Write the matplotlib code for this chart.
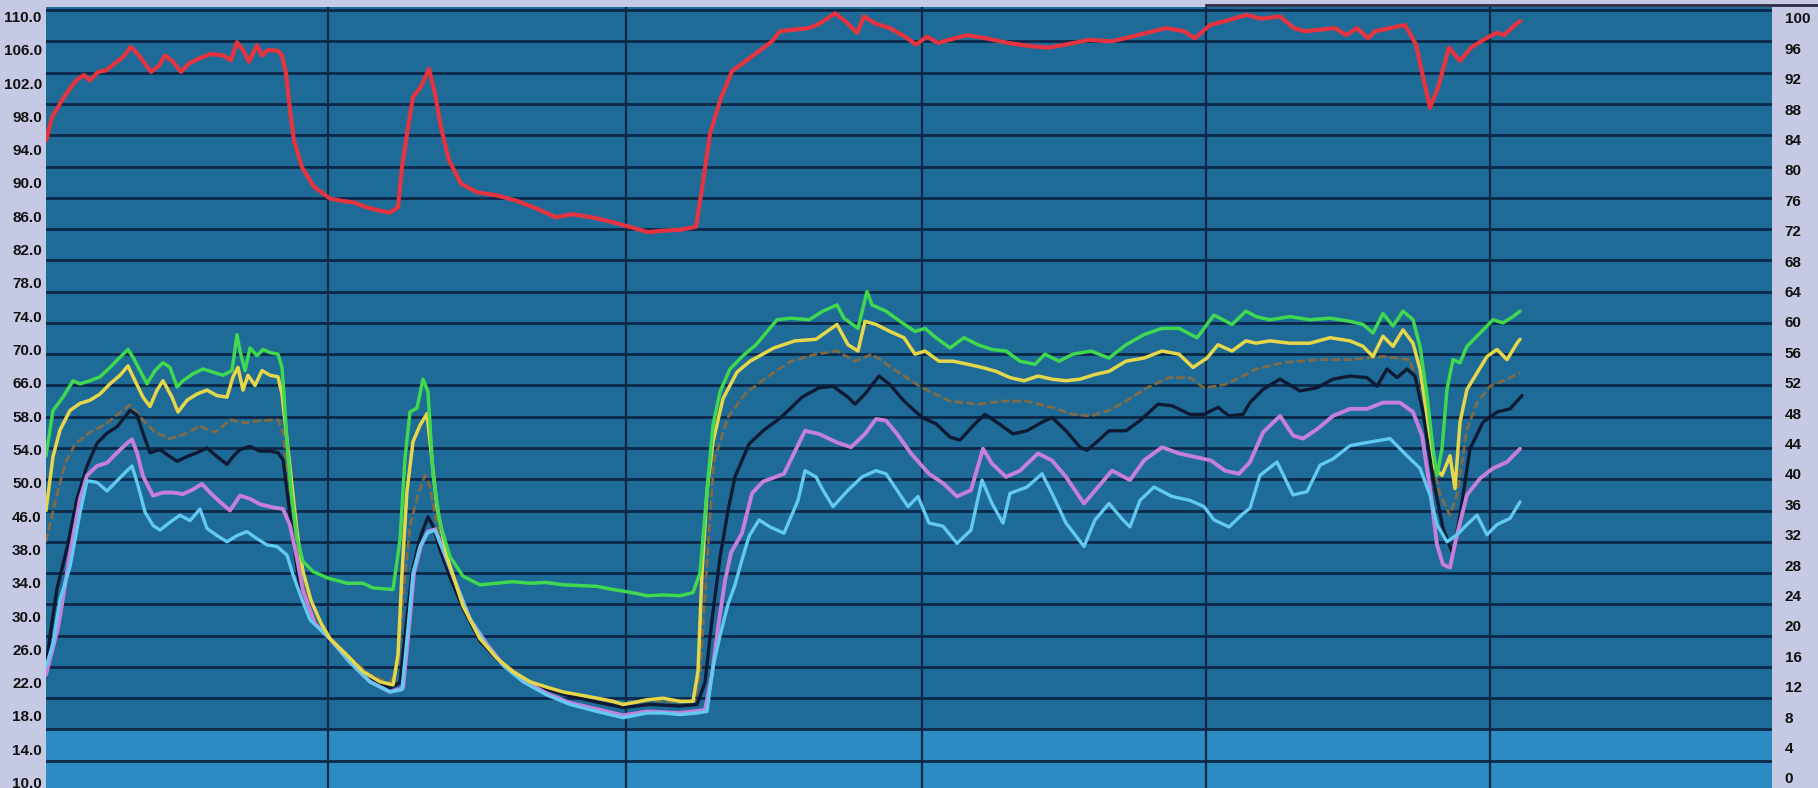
import matplotlib
matplotlib.use("Agg")
import matplotlib.pyplot as plt
from matplotlib.lines import Line2D
from matplotlib import font_manager
import numpy as np

# ---------------- data (x = sample index, y = right-axis scale 0..100) ----------------
red_x = [0, 6, 18, 30, 38, 44, 52, 60, 69, 77, 85, 93, 105, 113, 119, 127, 135, 143, 153, 165,
         177, 185, 191, 197, 203, 211, 216, 222, 232, 236, 240, 244, 248, 256, 268, 284, 296, 308,
         320, 332, 344, 352, 356, 362, 367, 375, 383, 389, 395, 403, 415, 431, 451, 471, 491, 510,
         526, 546, 566, 586, 602, 617, 634, 650, 657, 664, 675, 686, 704, 726, 734, 748, 763, 774,
         789, 800, 811, 818, 829, 844, 859, 870, 881, 892, 903, 921, 940, 962, 984, 1002, 1020,
         1043, 1065, 1079, 1101, 1120, 1138, 1149, 1164, 1182, 1201, 1215, 1234, 1248, 1259, 1274,
         1289, 1300, 1311, 1322, 1329, 1344, 1359, 1370, 1377, 1384, 1392, 1403, 1414, 1425, 1440,
         1451, 1458, 1469, 1474]
red_y = [83.3, 86.3, 88.9, 91.0, 91.7, 91.0, 92.1, 92.3, 93.2, 94.0, 95.3, 94.2, 92.1, 92.9, 94.2,
         93.4, 92.1, 93.2, 93.8, 94.4, 94.2, 93.6, 95.9, 94.9, 93.4, 95.5, 94.2, 94.9, 94.8, 94.2,
         91.9, 87.2, 83.3, 79.9, 77.4, 75.9, 75.6, 75.4, 74.8, 74.4, 74.1, 74.8, 79.9, 85.0, 88.9,
         90.2, 92.5, 89.3, 85.0, 80.8, 77.8, 76.7, 76.3, 75.6, 74.6, 73.5, 73.9, 73.5, 72.9, 72.2,
         71.6, 71.8, 71.9, 72.3, 78.0, 84.2, 88.8, 92.2, 93.9, 96.0, 97.3, 97.5, 97.7, 98.3, 99.6,
         98.5, 97.1, 99.2, 98.3, 97.7, 96.6, 95.6, 96.6, 95.8, 96.2, 96.8, 96.4, 95.8, 95.4, 95.2,
         95.6, 96.2, 96.0, 96.4, 97.1, 97.7, 97.3, 96.4, 98.1, 98.7, 99.4, 98.9, 99.2, 97.7, 97.3,
         97.5, 97.7, 96.8, 97.7, 96.4, 97.3, 97.7, 98.1, 95.6, 91.5, 87.5, 90.1, 95.2, 93.5, 95.2,
         96.4, 97.1, 96.8, 98.1, 98.6]

green_x = [0, 7, 17, 27, 34, 44, 54, 64, 74, 82, 87, 94, 101, 109, 117, 124, 131, 137, 147, 157,
           167, 177, 186, 191, 194, 199, 204, 211, 217, 224, 232, 236, 239, 242, 246, 251, 257, 267,
           281, 301, 317, 327, 347, 354, 359, 364, 371, 377, 382, 387, 394, 404, 417, 434, 451, 467,
           484, 500, 517, 534, 551, 567, 577, 590, 601, 617, 634, 647, 654, 661, 667, 674, 684, 697,
           710, 731, 745, 763, 777, 791, 798, 812, 821, 826, 840, 854, 869, 879, 890, 904, 918, 932,
           946, 960, 974, 989, 999, 1013, 1027, 1045, 1063, 1080, 1098, 1116, 1133, 1151, 1168, 1186,
           1200, 1210, 1224, 1244, 1264, 1284, 1304, 1317, 1327, 1337, 1347, 1357, 1367, 1374, 1381,
           1387, 1391, 1396, 1401, 1407, 1414, 1421, 1434, 1447, 1457, 1467, 1474]
green_y = [43.0, 48.8, 50.5, 52.6, 52.2, 52.6, 53.1, 54.3, 55.6, 56.6, 55.6, 53.9, 52.2, 53.9, 54.9,
           54.3, 51.8, 52.6, 53.5, 54.1, 53.7, 53.3, 53.9, 58.5, 56.4, 53.9, 56.8, 55.8, 56.6, 56.2,
           56.0, 54.3, 48.8, 42.9, 37.5, 32.4, 29.5, 28.2, 27.4, 26.7, 26.7, 26.1, 25.9, 32.2, 42.7,
           48.6, 49.1, 52.8, 51.2, 40.6, 34.3, 30.1, 27.6, 26.5, 26.7, 26.9, 26.7, 26.8, 26.5, 26.4,
           26.3, 25.9, 25.7, 25.4, 25.1, 25.2, 25.1, 25.5, 28.0, 38.5, 46.9, 51.2, 54.1, 55.8, 57.2,
           60.4, 60.6, 60.4, 61.5, 62.3, 60.6, 59.3, 64.0, 62.3, 61.5, 60.2, 58.9, 59.3, 58.1, 56.8,
           58.1, 57.2, 56.6, 56.4, 55.1, 54.7, 56.0, 55.1, 56.0, 56.4, 55.5, 57.2, 58.5, 59.3, 59.3,
           58.1, 61.0, 59.8, 61.5, 60.8, 60.4, 60.8, 60.4, 60.6, 60.2, 59.8, 58.7, 61.2, 59.6, 61.5,
           60.4, 57.0, 50.7, 43.9, 40.5, 43.9, 51.5, 55.3, 54.9, 57.0, 58.7, 60.4, 60.0, 60.8, 61.5]

yellow_x = [0, 7, 14, 24, 34, 44, 54, 64, 74, 82, 89, 97, 104, 111, 117, 126, 132, 141, 151, 161,
            171, 181, 187, 192, 197, 202, 209, 216, 224, 232, 236, 241, 246, 251, 257, 265, 275, 284,
            301, 317, 334, 347, 352, 356, 361, 367, 374, 381, 384, 391, 401, 417, 434, 451, 467, 484,
            501, 517, 534, 551, 567, 577, 590, 601, 617, 634, 647, 652, 656, 661, 667, 677, 691, 704,
            728, 749, 770, 791, 802, 812, 819, 830, 844, 858, 869, 879, 893, 907, 922, 936, 950, 964,
            978, 992, 1006, 1020, 1034, 1049, 1063, 1080, 1098, 1116, 1133, 1147, 1161, 1172, 1186,
            1200, 1210, 1224, 1244, 1264, 1284, 1304, 1317, 1327, 1337, 1347, 1357, 1367, 1374, 1382,
            1389, 1396, 1404, 1409, 1414, 1421, 1431, 1441, 1451, 1461, 1471, 1474]
yellow_y = [36.0, 42.9, 46.3, 48.8, 49.7, 50.1, 50.9, 52.2, 53.3, 54.5, 52.6, 50.5, 49.3, 51.4, 52.6,
            50.5, 48.6, 50.1, 50.9, 51.4, 50.7, 50.5, 53.1, 54.3, 51.4, 53.3, 52.0, 53.9, 53.3, 53.1,
            50.9, 45.1, 39.2, 33.3, 28.2, 24.5, 21.6, 19.6, 17.5, 15.4, 14.1, 13.7, 17.5, 28.0, 38.5,
            44.8, 46.9, 48.4, 44.8, 36.4, 30.1, 23.8, 19.6, 17.1, 15.4, 14.1, 13.4, 12.8, 12.4, 12.0,
            11.6, 11.2, 11.5, 11.8, 12.0, 11.6, 11.6, 15.4, 28.0, 38.5, 44.8, 50.3, 53.7, 55.1, 56.8,
            57.7, 57.9, 59.8, 57.2, 56.4, 60.2, 59.8, 58.9, 58.1, 56.0, 56.4, 55.1, 55.1, 54.7, 54.3,
            53.8, 53.0, 52.6, 53.2, 52.8, 52.6, 52.8, 53.4, 53.8, 55.1, 55.5, 56.4, 56.0, 54.3, 55.5,
            57.2, 56.4, 57.7, 57.4, 57.7, 57.4, 57.4, 58.1, 57.7, 57.0, 55.7, 58.3, 57.0, 59.1, 57.4,
            54.1, 47.3, 41.4, 40.5, 43.0, 38.8, 47.3, 51.5, 53.6, 55.7, 56.6, 55.3, 57.4, 57.9]

brown_x = [0, 9, 19, 29, 44, 59, 74, 84, 94, 109, 124, 139, 154, 169, 184, 199, 214, 232, 237, 242,
           249, 256, 263, 270, 284, 304, 324, 344, 352, 357, 364, 372, 379, 384, 391, 401, 417, 434,
           454, 484, 517, 551, 577, 604, 634, 649, 654, 659, 664, 668, 682, 699, 720, 745, 770, 791,
           809, 826, 851, 876, 904, 932, 957, 981, 1006, 1027, 1045, 1063, 1080, 1101, 1123, 1144,
           1158, 1179, 1200, 1210, 1237, 1271, 1304, 1337, 1364, 1374, 1384, 1394, 1404, 1411, 1421,
           1431, 1444, 1461, 1474]
brown_y = [32.0, 37.0, 42.0, 44.5, 46.0, 47.0, 48.5, 49.5, 48.0, 46.0, 45.2, 45.8, 46.8, 46.0, 47.6,
           47.2, 47.5, 47.6, 46.0, 40.0, 33.0, 27.0, 23.5, 21.6, 19.8, 17.2, 15.0, 13.9, 16.0, 25.0,
           34.0, 38.0, 40.5, 39.0, 34.0, 29.5, 23.5, 19.4, 16.8, 14.0, 12.7, 11.9, 11.2, 11.7, 11.5,
           11.7, 15.0, 25.0, 35.0, 42.4, 47.9, 50.9, 53.0, 55.1, 56.0, 56.4, 55.1, 56.0, 53.8, 51.7,
           50.0, 49.6, 50.0, 50.0, 49.2, 48.3, 48.1, 48.8, 50.0, 51.7, 53.0, 53.0, 51.7, 52.1, 53.4,
           54.1, 54.9, 55.3, 55.3, 55.7, 55.3, 50.7, 43.9, 38.0, 35.4, 38.0, 46.4, 49.8, 51.9, 52.8,
           53.6]

black_x = [0, 4, 11, 21, 31, 41, 51, 61, 71, 79, 84, 91, 97, 104, 114, 124, 131, 141, 151, 161, 171,
           181, 187, 194, 204, 214, 224, 232, 237, 242, 247, 254, 264, 284, 304, 324, 344, 354, 359,
           366, 374, 382, 387, 394, 404, 417, 434, 454, 484, 517, 551, 577, 604, 634, 651, 659, 666,
           674, 682, 689, 703, 717, 735, 756, 773, 787, 802, 809, 819, 833, 844, 858, 876, 890, 904,
           914, 929, 939, 953, 967, 981, 996, 1006, 1020, 1034, 1041, 1052, 1063, 1080, 1094, 1112,
           1126, 1144, 1158, 1172, 1183, 1197, 1204, 1217, 1234, 1254, 1271, 1287, 1304, 1321, 1331,
           1341, 1351, 1361, 1369, 1377, 1387, 1397, 1407, 1414, 1424, 1437, 1451, 1464, 1476]
black_y = [16.0, 20.0, 26.0, 31.2, 37.5, 41.7, 44.6, 45.9, 46.7, 48.0, 48.8, 48.2, 45.9, 43.4, 43.8,
           42.9, 42.3, 42.9, 43.4, 44.0, 42.9, 41.9, 42.9, 43.8, 44.2, 43.6, 43.6, 43.4, 42.5, 37.5,
           32.4, 26.0, 22.0, 19.6, 16.8, 14.6, 13.3, 14.0, 20.0, 28.0, 32.5, 35.2, 34.0, 31.0, 27.5,
           23.5, 19.3, 16.6, 13.8, 12.5, 11.5, 10.8, 11.2, 11.0, 11.2, 14.0, 22.0, 30.0, 36.0, 40.3,
           44.5, 46.2, 47.9, 50.5, 51.7, 51.9, 50.5, 49.6, 50.9, 53.2, 52.1, 50.0, 47.9, 47.1, 45.4,
           45.0, 47.1, 48.3, 47.1, 45.8, 46.2, 47.3, 47.9, 46.2, 44.1, 43.7, 44.9, 46.2, 46.2, 47.5,
           49.6, 49.4, 48.3, 48.3, 49.2, 48.1, 48.3, 49.8, 51.5, 52.8, 51.3, 51.7, 52.8, 53.2, 53.0,
           51.9, 54.1, 53.0, 54.1, 53.2, 48.6, 40.1, 33.7, 30.4, 35.4, 43.9, 47.3, 48.6, 49.0, 50.7]

magenta_x = [0, 12, 16, 24, 34, 41, 51, 61, 71, 81, 86, 91, 97, 107, 117, 127, 137, 147, 156, 164,
             174, 184, 194, 204, 214, 227, 237, 244, 251, 257, 269, 284, 304, 324, 344, 357, 362, 368,
             375, 382, 389, 397, 411, 424, 441, 457, 477, 501, 524, 551, 577, 601, 634, 659, 666, 672,
             679, 685, 696, 706, 717, 738, 759, 773, 791, 805, 819, 830, 840, 851, 865, 883, 897, 911,
             925, 937, 946, 960, 974, 992, 1006, 1020, 1038, 1052, 1066, 1084, 1098, 1116, 1133, 1151,
             1165, 1179, 1193, 1204, 1217, 1234, 1247, 1257, 1271, 1287, 1304, 1321, 1337, 1354, 1367,
             1376, 1384, 1391, 1397, 1404, 1411, 1421, 1434, 1447, 1461, 1474]
magenta_y = [15.0, 21.0, 24.0, 30.5, 37.5, 40.5, 41.7, 42.1, 43.4, 44.6, 45.1, 43.4, 40.4, 37.9, 38.3,
             38.3, 38.1, 38.7, 39.4, 38.3, 37.1, 36.0, 37.9, 37.5, 36.8, 36.4, 36.2, 34.1, 29.9, 25.7,
             21.5, 19.6, 16.6, 14.1, 12.8, 13.3, 19.6, 28.0, 31.5, 33.3, 33.6, 31.0, 26.3, 22.1, 18.9,
             16.3, 14.3, 12.6, 11.4, 10.6, 9.8, 10.3, 10.1, 10.5, 15.0, 21.0, 27.0, 30.6, 33.1, 38.2,
             39.7, 40.7, 46.2, 45.8, 44.7, 44.1, 45.8, 47.7, 47.5, 45.8, 43.3, 40.7, 39.5, 37.8, 38.6,
             43.9, 42.0, 40.3, 41.1, 43.3, 42.4, 40.3, 36.9, 39.0, 41.1, 39.9, 42.4, 44.1, 43.3, 42.8,
             42.4, 41.1, 40.7, 42.2, 46.0, 48.1, 45.6, 45.2, 46.4, 48.1, 49.0, 49.0, 49.8, 49.8, 48.6,
             45.6, 38.8, 31.6, 29.1, 28.7, 32.9, 38.0, 40.1, 41.4, 42.2, 43.9]

cyan_x = [0, 7, 14, 24, 34, 41, 51, 61, 71, 81, 86, 92, 99, 107, 114, 124, 134, 144, 154, 161, 171,
          181, 191, 201, 211, 221, 231, 241, 247, 254, 264, 284, 304, 324, 344, 356, 361, 367, 374,
          381, 389, 397, 411, 424, 441, 457, 477, 501, 524, 551, 577, 601, 617, 634, 651, 661, 667,
          674, 682, 689, 696, 703, 713, 724, 738, 752, 759, 770, 777, 787, 802, 816, 830, 840, 851,
          862, 872, 883, 897, 911, 925, 936, 946, 957, 964, 981, 996, 1006, 1020, 1038, 1049, 1063,
          1077, 1084, 1094, 1108, 1126, 1144, 1158, 1168, 1183, 1197, 1204, 1214, 1231, 1247, 1261,
          1274, 1287, 1304, 1321, 1344, 1361, 1374, 1384, 1391, 1401, 1411, 1421, 1431, 1441, 1451,
          1464, 1474]
cyan_y = [16.0, 19.0, 24.6, 28.8, 35.7, 39.8, 39.6, 38.5, 39.8, 41.1, 41.7, 39.2, 35.8, 34.1, 33.5,
          34.5, 35.4, 34.7, 36.2, 33.7, 32.8, 32.0, 32.8, 33.3, 32.4, 31.6, 31.4, 30.3, 27.8, 25.3,
          22.0, 19.6, 16.6, 14.1, 12.8, 13.1, 19.6, 28.0, 31.4, 33.1, 33.5, 31.0, 26.3, 22.1, 18.7,
          16.2, 14.1, 12.4, 11.2, 10.3, 9.5, 10.1, 10.1, 9.9, 10.1, 10.3, 16.0, 20.0, 24.0, 26.5,
          29.7, 32.7, 34.8, 33.9, 33.1, 37.3, 41.1, 40.3, 38.6, 36.5, 38.6, 40.3, 41.1, 40.7, 38.6,
          36.5, 37.8, 34.4, 34.0, 31.8, 33.5, 39.9, 36.9, 34.4, 38.2, 39.0, 40.7, 38.2, 34.4, 31.4,
          34.8, 36.9, 34.8, 33.9, 37.3, 39.0, 37.8, 37.3, 36.5, 34.8, 33.9, 35.6, 36.3, 40.5, 42.2,
          38.0, 38.4, 41.8, 42.6, 44.3, 44.7, 45.2, 43.0, 41.4, 38.0, 34.2, 32.0, 32.9, 34.2, 35.4,
          32.9, 34.2, 35.0, 37.1]

left_labels = ["110.0", "106.0", "102.0", "98.0", "94.0", "90.0", "86.0", "82.0", "78.0", "74.0",
               "70.0", "66.0", "58.0", "54.0", "50.0", "46.0", "38.0", "34.0", "30.0", "26.0",
               "22.0", "18.0", "14.0", "10.0"]
right_labels = [str(v) for v in range(0, 101, 4)]
grid_values = list(range(0, 101, 4))
x_grid = [282, 580, 876, 1160, 1444]
x_max = 1726

# ---------------- font choice (condensed if available) ----------------
installed = {f.name for f in font_manager.fontManager.ttflist}
if "Liberation Sans Narrow" in installed:
    font = dict(family=["Liberation Sans Narrow", "DejaVu Sans"], size=12.5, weight="bold", color="#111111")
else:
    font = dict(family=["Liberation Sans", "DejaVu Sans"], size=11, weight="bold", color="#111111")

# ---------------- figure ----------------
W, H = 1818, 788
fig = plt.figure(figsize=(W / 100, H / 100), dpi=100, facecolor="#c6c9e3")
ax = fig.add_axes([46 / W, -4 / H, 1726 / W, 785 / H])
ax.set_facecolor("#1f6b97")
ax.set_xlim(0, x_max)
ax.set_ylim(0, 100.4)
for s in ax.spines.values():
    s.set_visible(False)

ax.axhspan(0, 8, color="#2b8bc2", zorder=0)
for v in grid_values:
    ax.axhline(v, color="#0b2849", lw=2.0, zorder=1)
for xv in x_grid:
    ax.axvline(xv, color="#0b2849", lw=1.6, zorder=1)

common = dict(solid_joinstyle="round", solid_capstyle="round", zorder=3)
ax.plot(brown_x, brown_y, color="#8a6c3e", lw=2.0, dashes=(3, 1.2), alpha=0.9, zorder=2)
ax.plot(black_x, black_y, color="#0e1a33", lw=2.4, **common)
ax.plot(magenta_x, magenta_y, color="#c77fdc", lw=2.8, **common)
ax.plot(cyan_x, cyan_y, color="#62c9f2", lw=2.4, **common)
ax.plot(yellow_x, yellow_y, color="#e6d74a", lw=2.5, **common)
ax.plot(green_x, green_y, color="#3fd84f", lw=2.5, **common)
ax.plot(red_x, red_y, color="#e5343f", lw=3.0, **common)

# right axis labels (twin axis)
axR = ax.twinx()
axR.set_ylim(ax.get_ylim())
for s in axR.spines.values():
    s.set_visible(False)
right_pos = np.linspace(1.8, 99.0, len(right_labels))
axR.set_yticks(right_pos)
axR.set_yticklabels(right_labels, fontdict=font)
axR.tick_params(axis="y", length=0, pad=9)
axR.set_xticks([])

# left axis labels
left_pos = np.linspace(99.2, 1.2, len(left_labels))
ax.yaxis.tick_left()
ax.set_yticks(left_pos)
ax.set_yticklabels(left_labels, fontdict=font)
ax.tick_params(axis="y", length=0, pad=3)
ax.set_xticks([])

# header rule at top right (cut-off panel title bar)
fig.add_artist(Line2D([1206 / W, 1.0], [1 - 5 / H, 1 - 5 / H], color="#2c2c44", lw=2))

fig.savefig("out.png", dpi=100, facecolor=fig.get_facecolor())
